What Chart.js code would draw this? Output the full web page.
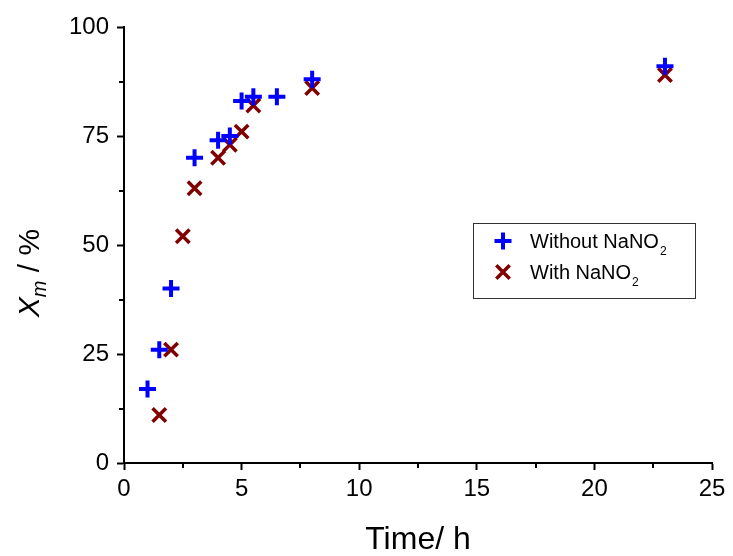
<!DOCTYPE html>
<html>
<head>
<meta charset="utf-8">
<script src="https://cdn.jsdelivr.net/npm/chart.js@4/dist/chart.umd.min.js"></script>
<style>
  html, body { margin: 0; padding: 0; background: #ffffff; }
  #wrap { width: 733px; height: 556px; }
</style>
</head>
<body>
<div id="wrap"><canvas id="c" width="733" height="556"></canvas></div>
<script>
// ---- data ----
const timeWithout = [1, 1.5, 2, 3, 4, 4.5, 5, 5.5, 6.5, 8, 23];
const xmWithout   = [17, 26, 40, 70, 74, 75, 83, 84, 84, 88, 91];
const timeWith    = [1.5, 2, 2.5, 3, 4, 4.5, 5, 5.5, 8, 23];
const xmWith      = [11, 26, 52, 63, 70, 73, 76, 82, 86, 89];

const seriesNames = ['Without NaNO', 'With NaNO'];
const seriesSub   = ['2', '2'];

const xTickValues  = [0, 5, 10, 15, 20, 25];
const yTickValues  = [0, 25, 50, 75, 100];
const xMinorTicks  = [2.5, 7.5, 12.5, 17.5, 22.5];
const yMinorTicks  = [12.5, 37.5, 62.5, 87.5];

const xTitle = 'Time/ h';
const yTitleMain = 'X', yTitleSub = 'm', yTitleRest = ' / %';

const FONT = '"Liberation Sans", Arial, Helvetica, sans-serif';

const toPts = (xs, ys) => xs.map((x, i) => ({ x: x, y: ys[i] }));

// minor ticks
const minorTicks = {
  id: 'minorTicks',
  afterDraw(chart) {
    const ctx = chart.ctx, xs = chart.scales.x, ys = chart.scales.y;
    const ca = chart.chartArea;
    ctx.save();
    ctx.strokeStyle = '#000';
    ctx.lineWidth = 2;
    ctx.beginPath();
    xMinorTicks.forEach(v => {
      const px = Math.round(xs.getPixelForValue(v));
      ctx.moveTo(px, ca.bottom);
      ctx.lineTo(px, ca.bottom + 5);
    });
    yMinorTicks.forEach(v => {
      const py = Math.round(ys.getPixelForValue(v));
      ctx.moveTo(ca.left - 5, py);
      ctx.lineTo(ca.left, py);
    });
    ctx.stroke();
    ctx.restore();
  }
};

// y axis title with italic subscript
const yTitlePlugin = {
  id: 'yTitlePlugin',
  afterDraw(chart) {
    const ctx = chart.ctx;
    const ca = chart.chartArea;
    ctx.save();
    const fMain = 'italic 30px ' + FONT;
    const fSub = 'italic 20px ' + FONT;
    const fRest = '30px ' + FONT;
    ctx.font = fMain; const w1 = ctx.measureText(yTitleMain).width;
    ctx.font = fSub;  const w2 = ctx.measureText(yTitleSub).width;
    ctx.font = fRest; const w3 = ctx.measureText(yTitleRest).width;
    const total = w1 + w2 + w3;
    ctx.translate(39, (ca.top + ca.bottom) / 2 + 28);
    ctx.rotate(-Math.PI / 2);
    ctx.fillStyle = '#000';
    ctx.textBaseline = 'alphabetic';
    ctx.textAlign = 'left';
    let x = -total / 2;
    ctx.font = fMain; ctx.fillText(yTitleMain, x, 0); x += w1;
    ctx.font = fSub;  ctx.fillText(yTitleSub, x, 7); x += w2;
    ctx.font = fRest; ctx.fillText(yTitleRest, x, 0);
    ctx.restore();
  }
};

// legend box inside the plot
const boxLegend = {
  id: 'boxLegend',
  afterDraw(chart) {
    const ctx = chart.ctx;
    ctx.save();
    ctx.strokeStyle = '#333';
    ctx.lineWidth = 1;
    ctx.strokeRect(473.5, 223.5, 222, 75);
    const rows = [241, 272];
    chart.data.datasets.forEach((ds, i) => {
      const y = rows[i];
      ctx.save();
      ctx.strokeStyle = ds.borderColor;
      ctx.fillStyle = ds.backgroundColor;
      ctx.lineWidth = ds.borderWidth;
      Chart.helpers.drawPoint(ctx, {
        pointStyle: ds.pointStyle, radius: ds.pointRadius,
        borderWidth: ds.borderWidth, rotation: 0
      }, 503, y);
      ctx.restore();
      ctx.fillStyle = '#000';
      ctx.textBaseline = 'alphabetic';
      ctx.textAlign = 'left';
      ctx.font = '20px ' + FONT;
      const base = y + 7;
      ctx.fillText(seriesNames[i], 530, base);
      const w = ctx.measureText(seriesNames[i]).width;
      ctx.font = '12px ' + FONT;
      ctx.fillText(seriesSub[i], 530 + w + 1, base + 7);
    });
    ctx.restore();
  }
};

const tickFont = { family: FONT, size: 24 };

new Chart(document.getElementById('c'), {
  type: 'scatter',
  data: {
    datasets: [
      {
        label: seriesNames[0] + '₂',
        data: toPts(timeWithout, xmWithout),
        pointStyle: 'cross',
        pointRadius: 8.5,
        pointHoverRadius: 8.5,
        borderWidth: 4,
        borderColor: '#0000ff',
        backgroundColor: '#0000ff'
      },
      {
        label: seriesNames[1] + '₂',
        data: toPts(timeWith, xmWith),
        pointStyle: 'crossRot',
        pointRadius: 9.5,
        pointHoverRadius: 9.5,
        borderWidth: 3.5,
        borderColor: '#800000',
        backgroundColor: '#800000'
      }
    ]
  },
  options: {
    responsive: false,
    animation: false,
    devicePixelRatio: 1,
    layout: { padding: { top: 27, right: 21, left: 0, bottom: 0 } },
    plugins: {
      legend: { display: false },
      tooltip: { enabled: false }
    },
    scales: {
      x: {
        type: 'linear',
        min: 0, max: 25,
        afterBuildTicks: s => { s.ticks = xTickValues.map(v => ({ value: v })); },
        afterFit: s => { s.height = 93; },
        ticks: { font: tickFont, color: '#000', padding: 5, maxRotation: 0, autoSkip: false },
        grid: { drawOnChartArea: false, drawTicks: true, tickLength: 7, tickWidth: 2, tickColor: '#000' },
        border: { display: true, color: '#000', width: 2 },
        title: {
          display: true, text: xTitle, color: '#000',
          font: { family: FONT, size: 32, lineHeight: 1 },
          padding: { top: 0, bottom: 0 }
        }
      },
      y: {
        type: 'linear',
        min: 0, max: 100,
        afterBuildTicks: s => { s.ticks = yTickValues.map(v => ({ value: v })); },
        afterFit: s => { s.width = 124; },
        ticks: { font: tickFont, color: '#000', padding: 8, autoSkip: false },
        grid: { drawOnChartArea: false, drawTicks: true, tickLength: 7, tickWidth: 2, tickColor: '#000' },
        border: { display: true, color: '#000', width: 2 }
      }
    }
  },
  plugins: [minorTicks, yTitlePlugin, boxLegend]
});
</script>
</body>
</html>
